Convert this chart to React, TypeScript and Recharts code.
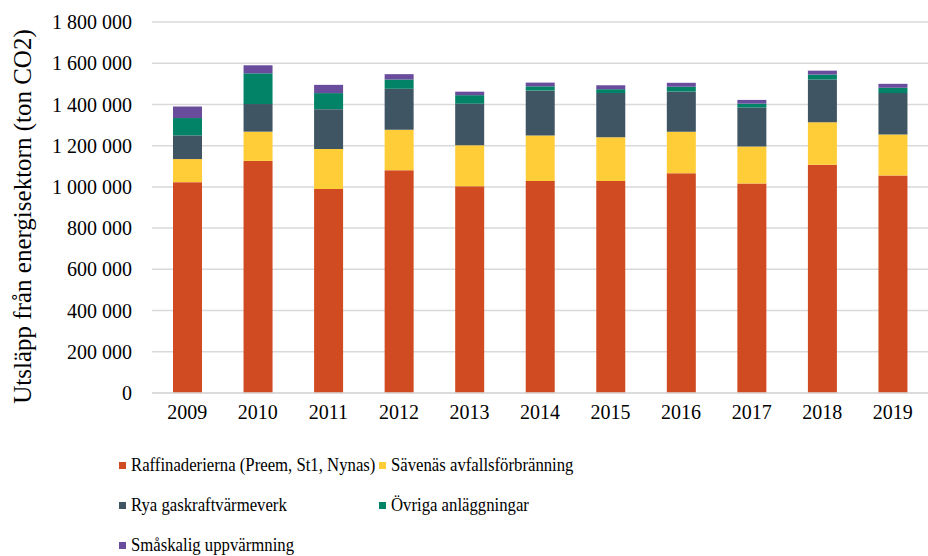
import { BarChart, Bar, XAxis, YAxis, CartesianGrid, Legend } from "recharts";

const years = ["2009", "2010", "2011", "2012", "2013", "2014", "2015", "2016", "2017", "2018", "2019"];
const raffinaderier = [1023000, 1126000, 990000, 1081000, 1003000, 1029000, 1029000, 1066000, 1016000, 1107000, 1055000];
const savenas = [112000, 142000, 194000, 196000, 199000, 220000, 212000, 202000, 180000, 207000, 199000];
const rya = [115000, 134000, 193000, 199000, 202000, 218000, 214000, 194000, 189000, 207000, 201000];
const ovriga = [84000, 149000, 78000, 45000, 41000, 21000, 19000, 24000, 19000, 24000, 26000];
const smaskalig = [56000, 39000, 40000, 26000, 17000, 18000, 19000, 19000, 18000, 19000, 19000];
const yTicks = [0, 200000, 400000, 600000, 800000, 1000000, 1200000, 1400000, 1600000, 1800000];
const seriesNames = [
  "Raffinaderierna (Preem, St1, Nynas)",
  "Sävenäs avfallsförbränning",
  "Rya gaskraftvärmeverk",
  "Övriga anläggningar",
  "Småskalig uppvärmning",
];

const data = years.map((year, i) => ({
  year,
  raff: raffinaderier[i],
  savenas: savenas[i],
  rya: rya[i],
  ovriga: ovriga[i],
  smaskalig: smaskalig[i],
}));

const FONT = "'Liberation Serif', 'Times New Roman', serif";

const fmt = (v: number) => String(v).replace(/\B(?=(\d{3})+(?!\d))/g, " ");

function AxisTitle({ viewBox }: any) {
  const cy = viewBox.y + viewBox.height / 2 + 9;
  return (
    <text
      x={22}
      y={cy}
      transform={`rotate(-90, 22, ${cy})`}
      textAnchor="middle"
      dominantBaseline="central"
      fontFamily={FONT}
      fontSize={25}
      fill="#000"
    >
      Utsläpp från energisektorn (ton CO2)
    </text>
  );
}

// legend text in the original is a bit condensed, so scale it horizontally
function LegendContent({ payload }: any) {
  const items = [...(payload || [])].sort(
    (a: any, b: any) => seriesNames.indexOf(a.value) - seriesNames.indexOf(b.value)
  );
  return (
    <div style={{ display: "grid", gridTemplateColumns: "260px 260px" }}>
      {items.map((p: any) => (
        <div key={p.value} style={{ display: "flex", alignItems: "center", height: 40 }}>
          <span style={{ width: 7, height: 7, background: p.color, marginRight: 5, flex: "none" }} />
          <span
            style={{
              display: "inline-block",
              whiteSpace: "nowrap",
              fontFamily: FONT,
              fontSize: 19,
              lineHeight: "22px",
              color: "#000",
              transform: "scaleX(0.88)",
              transformOrigin: "left center",
            }}
          >
            {p.value}
          </span>
        </div>
      ))}
    </div>
  );
}

export default function App() {
  return (
    <div style={{ position: "absolute", left: 0, top: 0 }}>
      <BarChart width={928} height={556} data={data} margin={{ top: 22, right: 0, bottom: 123, left: 0 }}>
        <CartesianGrid vertical={false} stroke="#d9d9d9" strokeWidth={1.5} />
        <XAxis
          dataKey="year"
          height={40}
          tickLine={false}
          axisLine={{ stroke: "#d9d9d9", strokeWidth: 1.5 }}
          tick={{ fontFamily: FONT, fontSize: 20, fill: "#000" }}
          tickMargin={6}
        />
        <YAxis
          width={152}
          domain={[0, 1800000]}
          ticks={yTicks}
          tickFormatter={fmt}
          axisLine={false}
          tickLine={false}
          tickMargin={14}
          tick={{ fontFamily: FONT, fontSize: 20, fill: "#000" }}
          label={{ content: AxisTitle }}
        />
        <Legend
          layout="horizontal"
          verticalAlign="middle"
          align="center"
          content={LegendContent}
          wrapperStyle={{ top: 445, left: 119, width: 560 }}
        />
        <Bar dataKey="raff" name={seriesNames[0]} stackId="a" fill="#D14B22" barSize={29} isAnimationActive={false} />
        <Bar dataKey="savenas" name={seriesNames[1]} stackId="a" fill="#FFCD38" barSize={29} isAnimationActive={false} />
        <Bar dataKey="rya" name={seriesNames[2]} stackId="a" fill="#3F5563" barSize={29} isAnimationActive={false} />
        <Bar dataKey="ovriga" name={seriesNames[3]} stackId="a" fill="#028266" barSize={29} isAnimationActive={false} />
        <Bar dataKey="smaskalig" name={seriesNames[4]} stackId="a" fill="#6A4C9C" barSize={29} isAnimationActive={false} />
      </BarChart>
    </div>
  );
}
